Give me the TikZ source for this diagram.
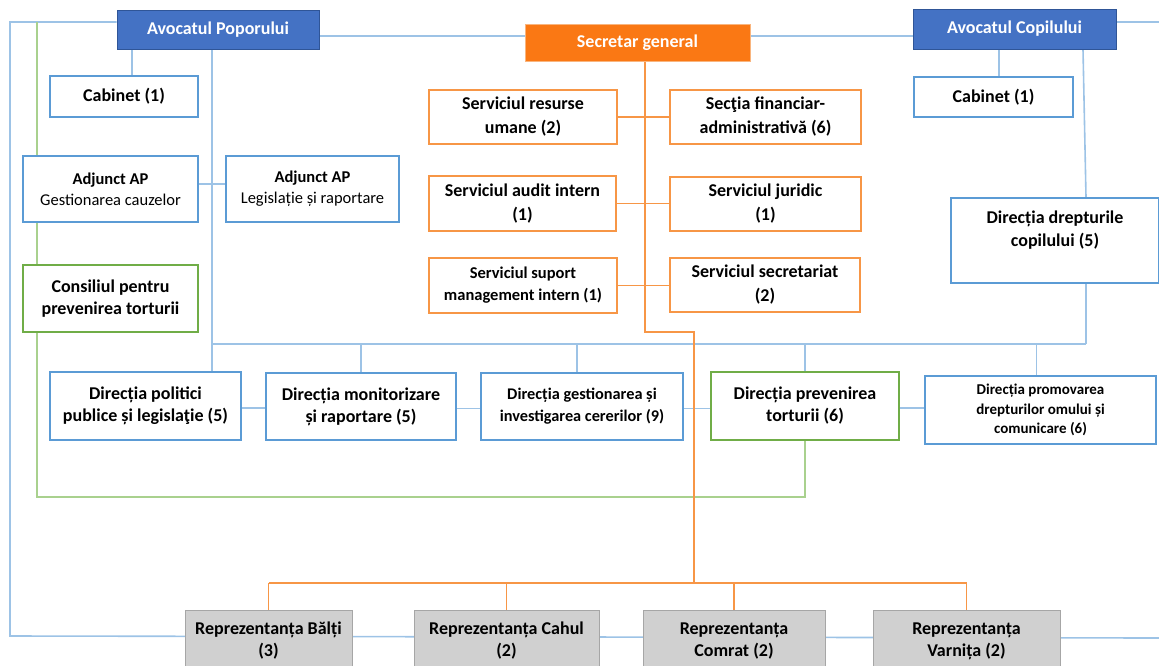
\documentclass[tikz,border=0pt]{standalone}
\usepackage{fontspec}
\setmainfont{Carlito}
\usetikzlibrary{positioning,backgrounds}

\definecolor{headblue}{HTML}{4472C4}
\definecolor{headedge}{HTML}{2F5597}
\definecolor{boxblue}{HTML}{5B9BD5}
\definecolor{lineblue}{HTML}{9DC3E6}
\definecolor{sgorange}{HTML}{FA7814}
\definecolor{boxorange}{HTML}{F79646}
\definecolor{boxgreen}{HTML}{70AD47}
\definecolor{linegreen}{HTML}{A9D18E}
\definecolor{repgray}{HTML}{D0D0D0}
\definecolor{repedge}{HTML}{A6A6A6}

\begin{document}
\begin{tikzpicture}
    [
        x=1pt, y=-1pt,
        every node/.style={font=\bfseries\fontsize{18}{24}\selectfont, align=center, inner sep=0pt},
        box/.style={draw, fill=white, line width=1.3pt},
        bluebox/.style={box, draw=boxblue},
        orangebox/.style={box, draw=boxorange},
        greenbox/.style={box, draw=boxgreen},
        headbox/.style={draw=headedge, fill=headblue, text=white, line width=1pt},
        sgbox/.style={draw=boxorange!70, fill=sgorange, text=white, line width=1pt},
        repbox/.style={draw=repedge, fill=repgray, line width=1pt, font=\bfseries\fontsize{18}{22}\selectfont},
        bline/.style={draw=lineblue, line width=1.6pt},
        oline/.style={draw=boxorange, line width=1.4pt},
        gline/.style={draw=linegreen, line width=1.6pt},
    ]
    \path[use as bounding box, clip] (0,0) rectangle (1159,665);

    \node[headbox, minimum width=202, minimum height=39] (ap) at (218,29.5) {Avocatul Poporului};
    \node[sgbox, minimum width=225, minimum height=37] (sg) at (637.5,42.5) {Secretar general};
    \node[headbox, minimum width=203, minimum height=40] (ac) at (1014.5,29) {Avocatul Copilului};

    \node[bluebox, minimum width=148, minimum height=41] (cabl) at (124,96.5) {Cabinet (1)};
    \node[bluebox, minimum width=175, minimum height=66, font=\fontsize{16.5}{21}\selectfont] (adjg) at (110.5,189)
        {\textbf{Adjunct AP}\\Gestionarea cauzelor};
    \node[bluebox, minimum width=173, minimum height=66, font=\fontsize{16.5}{21}\selectfont] (adjl) at (312.5,189)
        {\textbf{Adjunct AP}\\Legislație și raportare};
    \node[greenbox, minimum width=175, minimum height=67, font=\bfseries\fontsize{18}{22}\selectfont] (cons) at (110.5,298.5)
        {Consiliul pentru\\prevenirea torturii};

    \node[orangebox, minimum width=188, minimum height=54] (srh) at (523,117) {Serviciul resurse\\umane (2)};
    \node[orangebox, minimum width=191, minimum height=54] (sfa) at (765.5,117) {Secţia financiar-\\administrativă (6)};
    \node[orangebox, minimum width=187, minimum height=55] (sai) at (522.5,203.5) {Serviciul audit intern\\(1)};
    \node[orangebox, minimum width=191, minimum height=54] (sj) at (765.5,204) {Serviciul juridic\\(1)};
    \node[orangebox, minimum width=188, minimum height=55, font=\bfseries\fontsize{16.5}{22}\selectfont] (ssm) at (523,285.5)
        {Serviciul suport\\management intern (1)};
    \node[orangebox, minimum width=190, minimum height=54] (ss) at (765,285) {Serviciul secretariat\\(2)};

    \node[bluebox, minimum width=159, minimum height=40] (cabr) at (993.5,97) {Cabinet (1)};
    \node[bluebox, minimum width=208, minimum height=85, font=\bfseries\fontsize{18}{23}\selectfont] (ddc) at (1055,240.5)
        {Direcția drepturile\\copilului (5)\\ \mbox{}};

    \node[bluebox, minimum width=191, minimum height=68, font=\bfseries\fontsize{18}{22}\selectfont] (dpp) at (145.5,406)
        {Direcția politici\\publice și legislaţie (5)};
    \node[bluebox, minimum width=190, minimum height=67, font=\bfseries\fontsize{18}{22}\selectfont] (dmr) at (361,406.5)
        {Direcția monitorizare\\și raportare (5)};
    \node[bluebox, minimum width=202, minimum height=67, font=\bfseries\fontsize{16.3}{22}\selectfont] (dgi) at (582,406.5)
        {Direcția gestionarea și\\investigarea cererilor (9)};
    \node[greenbox, minimum width=188, minimum height=68, font=\bfseries\fontsize{18}{22}\selectfont] (dpt) at (805,406)
        {Direcția prevenirea\\torturii (6)};
    \node[bluebox, minimum width=231, minimum height=68, font=\bfseries\fontsize{15}{19.5}\selectfont] (dpd) at (1040.5,410)
        {Direcția promovarea\\drepturilor omului și\\comunicare (6)};

    \node[repbox, minimum width=167, minimum height=62] (rb) at (268.5,641) {Reprezentanța Bălți\\(3)};
    \node[repbox, minimum width=185, minimum height=62] (rc) at (506.5,641) {Reprezentanța Cahul\\(2)};
    \node[repbox, minimum width=182, minimum height=62] (rco) at (734,641) {Reprezentanța\\Comrat (2)};
    \node[repbox, minimum width=187, minimum height=62] (rv) at (966.5,641) {Reprezentanța\\Varnița (2)};

    \coordinate (fl) at (10,636);
    \coordinate (fr) at (1159,638);
    \coordinate (frt) at (1159,22);
    \coordinate (gtop) at (37,22);
    \coordinate (gbot) at (37,497);
    \coordinate (busl) at (212,344);
    \coordinate (busr) at (1086,344);
    \coordinate (oj) at (645,332);
    \coordinate (ok) at (694,583);

    \begin{scope}[on background layer]
        \draw[bline] ([yshift=-6.5pt]ap.east) -- ([yshift=-6.5pt]ap.east -| sg.west);
        \draw[bline] ([yshift=-6.5pt]ap.east -| sg.east) -- ([yshift=-6.5pt]ap.east -| ac.west);
        \draw[bline] ([yshift=7.5pt]ap.west) -| (fl) -- (fr);
        \draw[bline] ([yshift=7pt]ac.east) -- (frt);

        \draw[gline] (gtop) -- (adjg.north -| gtop);
        \draw[gline] (adjg.south -| gtop) -- (cons.north -| gtop);
        \draw[gline] (cons.south -| gtop) -- (gbot) -| (dpt.south);

        \draw[bline] ([xshift=8pt]cabl.north) -- ([xshift=8pt]cabl.north |- ap.south);
        \draw[bline] (ap.south -| busl) -- (dpp.north -| busl);
        \draw[bline] ([yshift=5pt]adjg.east) -- ([yshift=5pt]adjg.east -| adjl.west);
        \draw[bline] (busl) -- (busr);
        \draw[bline] (dmr.north) -- (dmr.north |- busl);
        \draw[bline] ([xshift=-5pt]dgi.north) -- ([xshift=-5pt]dgi.north |- busl);
        \draw[bline] (dpt.north) -- (dpt.north |- busl);
        \draw[bline] ([xshift=-4pt]dpd.north) -- ([xshift=-4pt]dpd.north |- busl);
        \foreach \a/\b in {dpp/dmr, dmr/dgi, dgi/dpt, dpt/dpd}
            \draw[bline] ([yshift=-2pt]\a.east) -- ([yshift=-2pt]\a.east -| \b.west);

        \draw[bline] ([xshift=5.5pt]cabr.north) -- ([xshift=5.5pt]cabr.north |- ac.south);
        \draw[bline] ([xshift=68.5pt]ac.south) -- ([xshift=31pt]ddc.north);
        \draw[bline] ([xshift=31pt]ddc.south) -- (busr);

        \draw[oline] ([xshift=7.5pt]sg.south) -- (oj) -| (ok);
        \foreach \a/\b in {srh/sfa, sai/sj, ssm/ss}
            \draw[oline] (\a.east) -- (\a.east -| \b.west);
        \draw[oline] (rb.north |- ok) -- (rv.north |- ok);
        \foreach \n in {rb, rc, rco, rv}
            \draw[oline] (\n.north) -- (\n.north |- ok);
    \end{scope}
\end{tikzpicture}
\end{document}
